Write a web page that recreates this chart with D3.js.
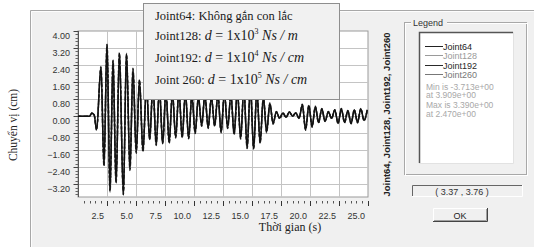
<!DOCTYPE html>
<html>
<head>
<meta charset="utf-8">
<script src="https://cdn.jsdelivr.net/npm/d3@7"></script>
<style>
  html, body { margin: 0; padding: 0; background: #fff; }
  svg { display: block; }
</style>
</head>
<body>
<script>
const widthSVG = 534, heightSVG = 247;

// extrema times (s), shared by the four joints
const times = [0, 1.0, 1.2, 1.4, 1.6, 1.98, 2.24, 2.50, 2.76, 3.02, 3.28, 3.57, 3.91, 4.18, 4.48, 4.74, 5.02, 5.30, 5.60, 5.90,
    6.18, 6.46, 6.74, 7.02, 7.30, 7.58, 7.86, 8.14, 8.42, 8.70, 8.98, 9.26, 9.54, 9.82, 10.10, 10.38, 10.66, 10.94, 11.22, 11.50,
    11.78, 12.06, 12.34, 12.62, 12.90, 13.18, 13.46, 13.74, 14.02, 14.30, 14.58, 14.86, 15.14, 15.42, 15.70, 15.98, 16.26, 16.54,
    16.82, 17.10, 17.38, 17.66, 17.94, 18.22, 18.50, 18.78, 19.06, 19.34, 19.62, 19.90, 20.18, 20.46, 20.74, 21.02, 21.30, 21.58,
    21.86, 22.14, 22.42, 22.70, 22.98, 23.26, 23.54, 23.82, 24.10, 24.38, 24.66, 24.94];

const joint64 = [0, 0, 0.15, 0.05, -0.65, 2.30, -2.30, 3.39, -3.50, 2.60, -3.10, 2.95, -3.71, 2.95, -2.50, 2.20, -1.70, 1.70, -1.65, 1.40,
    -1.10, 1.50, -1.35, 1.30, -1.30, 1.20, -1.25, 1.10, -1.00, 1.20, -1.00, 1.10, -1.05, 1.00, -0.80, 0.90, -0.45, 1.00, -0.55, 0.90,
    -0.45, 1.00, -0.75, 1.10, -0.55, 1.00, -0.85, 1.20, -1.05, 1.30, -1.50, 1.40, -1.55, 1.20, -1.25, 0.90, -0.75, 0.60, -0.35, 0.20,
    -0.10, 0.15, -0.05, 0.20, 0.00, 0.15, -0.10, 0.55, -0.65, 0.50, -0.50, 0.45, -0.30, 0.35, -0.25, 0.20, -0.10, 0.30, -0.35, 0.35,
    -0.30, 0.25, -0.35, 0.30, -0.30, 0.35, -0.20, 0.30];
const joint128 = [0, 0, 0.14, 0.04, -0.62, 2.25, -2.20, 3.30, -3.45, 2.55, -3.05, 2.90, -3.60, 2.85, -2.45, 2.15, -1.65, 1.60, -1.55, 1.35,
    -1.05, 1.40, -1.30, 1.25, -1.25, 1.15, -1.20, 1.05, -0.95, 1.15, -0.95, 1.05, -1.00, 0.95, -0.75, 0.85, -0.45, 0.95, -0.50, 0.85,
    -0.45, 0.95, -0.70, 1.05, -0.55, 0.95, -0.80, 1.15, -1.00, 1.25, -1.45, 1.35, -1.50, 1.15, -1.20, 0.85, -0.70, 0.55, -0.30, 0.20,
    -0.10, 0.15, -0.05, 0.18, 0.00, 0.15, -0.08, 0.50, -0.60, 0.48, -0.45, 0.40, -0.30, 0.32, -0.22, 0.20, -0.12, 0.28, -0.32, 0.33,
    -0.28, 0.25, -0.33, 0.28, -0.28, 0.32, -0.20, 0.28];
const joint192 = [0, 0, 0.15, 0.05, -0.66, 2.32, -2.35, 3.35, -3.55, 2.62, -3.15, 2.98, -3.68, 2.92, -2.55, 2.25, -1.75, 1.72, -1.68, 1.42,
    -1.12, 1.48, -1.38, 1.32, -1.28, 1.22, -1.28, 1.12, -1.02, 1.18, -1.02, 1.12, -1.06, 1.02, -0.82, 0.92, -0.48, 1.02, -0.58, 0.92,
    -0.48, 1.02, -0.78, 1.12, -0.58, 1.02, -0.88, 1.22, -1.08, 1.32, -1.52, 1.42, -1.52, 1.22, -1.28, 0.92, -0.78, 0.62, -0.38, 0.22,
    -0.12, 0.16, -0.06, 0.20, 0.02, 0.16, -0.12, 0.56, -0.66, 0.52, -0.52, 0.46, -0.32, 0.36, -0.26, 0.22, -0.12, 0.30, -0.36, 0.36,
    -0.32, 0.26, -0.36, 0.31, -0.32, 0.36, -0.22, 0.31];
const joint260 = [0, 0, 0.13, 0.03, -0.60, 2.20, -2.25, 3.25, -3.40, 2.50, -3.00, 2.85, -3.55, 2.80, -2.40, 2.10, -1.60, 1.62, -1.58, 1.30,
    -1.02, 1.42, -1.28, 1.22, -1.22, 1.12, -1.18, 1.02, -0.92, 1.12, -0.96, 1.02, -0.98, 0.92, -0.72, 0.82, -0.40, 0.92, -0.50, 0.82,
    -0.42, 0.92, -0.68, 1.02, -0.50, 0.92, -0.78, 1.12, -0.98, 1.22, -1.42, 1.32, -1.45, 1.12, -1.18, 0.82, -0.68, 0.52, -0.30, 0.18,
    -0.08, 0.12, -0.04, 0.16, 0.00, 0.12, -0.08, 0.48, -0.58, 0.46, -0.44, 0.40, -0.28, 0.30, -0.22, 0.18, -0.10, 0.26, -0.30, 0.30,
    -0.26, 0.22, -0.30, 0.26, -0.26, 0.30, -0.18, 0.26];

const seriesNames = ['Joint64', 'Joint128', 'Joint192', 'Joint260'];
const seriesValues = [joint260, joint128, joint192, joint64];
const seriesColors = ['#555555', '#7a7a7a', '#2a2a2a', '#111111'];
const seriesDash = ['2,2', '3,2', '4,2', null];

const yTicks = [4.0, 3.2, 2.4, 1.6, 0.8, 0.0, -0.8, -1.6, -2.4, -3.2];
const xTicks = [2.5, 5.0, 7.5, 10.0, 12.5, 15.0, 17.5, 20.0, 22.5, 25.0];
const statLines = ['Min is -3.713e+00', 'at 3.909e+00', 'Max is 3.390e+00', 'at 2.470e+00'];
const noteLines = [
    {label: 'Joint64: Không gắn con lắc'},
    {label: 'Joint128: ', exp: '3', unit: ' Ns / m'},
    {label: 'Joint192: ', exp: '4', unit: ' Ns / cm'},
    {label: 'Joint 260: ', exp: '5', unit: ' Ns / cm'}
];
const cursorText = '( 3.37 , 3.76 )';

const SERIF = '"Liberation Serif", "Times New Roman", serif';
const SANS = '"Liberation Sans", Arial, sans-serif';

const svg = d3.select('body').append('svg')
    .attr('width', widthSVG)
    .attr('height', heightSVG);

svg.append('rect').attr('width', widthSVG).attr('height', heightSVG).attr('fill', '#fff');

// dialog panel
svg.append('rect')
    .attr('x', 30).attr('y', 10).attr('width', widthSVG - 30).attr('height', heightSVG - 10)
    .attr('fill', '#f0f0f0');
svg.append('path').attr('d', 'M30.5,247 V10.5 H534').attr('fill', 'none').attr('stroke', '#a8a8a8');
svg.append('path').attr('d', 'M31.5,247 V11.5 H534').attr('fill', 'none').attr('stroke', '#fdfdfd');

const x = d3.scaleLinear().domain([0, 25]).range([78, 368]);
const y = d3.scaleLinear().domain([-3.8, 4]).range([197, 31]);

// plot area
svg.append('rect')
    .attr('x', x(0)).attr('y', y(4)).attr('width', x(25) - x(0)).attr('height', y(-3.8) - y(4))
    .attr('fill', '#fff').attr('stroke', '#9a9a9a');

const grid = svg.append('g').attr('stroke', '#c4c4c4').attr('stroke-width', 1);
grid.selectAll('.gy').data(yTicks.slice(1)).join('line')
    .attr('x1', x(0)).attr('x2', x(25))
    .attr('y1', d => Math.round(y(d)) + 0.5).attr('y2', d => Math.round(y(d)) + 0.5);
grid.selectAll('.gx').data(xTicks.slice(0, -1)).join('line')
    .attr('y1', y(4)).attr('y2', y(-3.8))
    .attr('x1', d => Math.round(x(d)) + 0.5).attr('x2', d => Math.round(x(d)) + 0.5);

// y axis with minor ticks
const yAxis = svg.append('g');
yAxis.append('line').attr('x1', 78.5).attr('x2', 78.5).attr('y1', y(4)).attr('y2', y(-3.8))
    .attr('stroke', '#555');
yAxis.selectAll('.minor').data(d3.range(-3.68, 4.01, 0.16)).join('line')
    .attr('x1', 75.5).attr('x2', 78)
    .attr('y1', d => Math.round(y(d)) + 0.5).attr('y2', d => Math.round(y(d)) + 0.5)
    .attr('stroke', '#666');
yAxis.selectAll('.major').data(yTicks).join('line')
    .attr('x1', 73.5).attr('x2', 78)
    .attr('y1', d => Math.round(y(d)) + 0.5).attr('y2', d => Math.round(y(d)) + 0.5)
    .attr('stroke', '#444');
yAxis.selectAll('text').data(yTicks).join('text')
    .attr('x', 70).attr('y', d => y(d) + 7.5)
    .attr('text-anchor', 'end')
    .attr('font-family', SANS).attr('font-size', 9).attr('fill', '#333')
    .text(d3.format('.2f'));

// x axis: dotted tick row below the plot
const xAxis = svg.append('g');
xAxis.selectAll('.minor').data(d3.range(0.5, 25.01, 0.5)).join('line')
    .attr('x1', d => Math.round(x(d)) + 0.5).attr('x2', d => Math.round(x(d)) + 0.5)
    .attr('y1', 201).attr('y2', 203.5)
    .attr('stroke', '#555');
xAxis.selectAll('.major').data(xTicks).join('line')
    .attr('x1', d => Math.round(x(d)) + 0.5).attr('x2', d => Math.round(x(d)) + 0.5)
    .attr('y1', 201).attr('y2', 206)
    .attr('stroke', '#333');
xAxis.selectAll('text').data(xTicks).join('text')
    .attr('x', d => x(d) - 3).attr('y', 218.5)
    .attr('text-anchor', 'end')
    .attr('font-family', SANS).attr('font-size', 9).attr('fill', '#333')
    .text(d3.format('.1f'));

svg.append('text')
    .attr('x', 290).attr('y', 231)
    .attr('text-anchor', 'middle')
    .attr('font-family', SERIF).attr('font-size', 12).attr('fill', '#222')
    .text('Thời gian (s)');
svg.append('text')
    .attr('transform', 'translate(17,125) rotate(-90)')
    .attr('text-anchor', 'middle')
    .attr('font-family', SERIF).attr('font-size', 11.5).attr('fill', '#222')
    .text('Chuyển vị (cm)');

// the four time histories
svg.append('clipPath').attr('id', 'plotClip')
    .append('rect').attr('x', x(0)).attr('y', y(4)).attr('width', x(25) - x(0)).attr('height', y(-3.8) - y(4));

const line = d3.line()
    .x(d => x(d[0]))
    .y(d => y(d[1]))
    .curve(d3.curveMonotoneX);

svg.append('g').attr('clip-path', 'url(#plotClip)')
    .selectAll('path').data(seriesValues).join('path')
    .attr('d', vals => line(times.map((t, i) => [t, vals[i]])))
    .attr('fill', 'none')
    .attr('stroke', (d, i) => seriesColors[i])
    .attr('stroke-width', 1.5)
    .attr('stroke-dasharray', (d, i) => seriesDash[i]);

// note box over the plot
svg.append('rect')
    .attr('x', 143.5).attr('y', 3.5).attr('width', 196).attr('height', 96)
    .attr('fill', '#f1f1f1').attr('stroke', '#8e8e8e');
const noteY = [20, 40, 62, 84];
noteLines.forEach((d, i) => {
    const t = svg.append('text')
        .attr('x', 155).attr('y', noteY[i])
        .attr('font-family', SERIF).attr('fill', '#1a1a1a');
    t.append('tspan').attr('font-size', 12.5).text(d.label);
    if (d.exp) {
        t.append('tspan').attr('font-size', 14).attr('font-style', 'italic').text('d');
        t.append('tspan').attr('font-size', 14).text(' = 1x10');
        t.append('tspan').attr('font-size', 8).attr('dy', -6).text(d.exp);
        t.append('tspan').attr('font-size', 14).attr('font-style', 'italic').attr('dy', 6).text(d.unit);
    }
});

// vertical series caption
svg.append('text')
    .attr('transform', 'translate(390,114.5) rotate(-90)')
    .attr('text-anchor', 'middle')
    .attr('font-family', SANS).attr('font-weight', 'bold').attr('font-size', 9.5)
    .attr('textLength', 164).attr('lengthAdjust', 'spacingAndGlyphs')
    .attr('fill', '#222')
    .text(seriesNames.join(', '));

// legend group box
svg.append('rect').attr('x', 404.5).attr('y', 22.5).attr('width', 122).attr('height', 152)
    .attr('fill', 'none').attr('stroke', '#a8a8a8');
svg.append('rect').attr('x', 405.5).attr('y', 23.5).attr('width', 122).attr('height', 152)
    .attr('fill', 'none').attr('stroke', '#fff');
svg.append('rect').attr('x', 411).attr('y', 17).attr('width', 36).attr('height', 10).attr('fill', '#f0f0f0');
svg.append('text').attr('x', 413).attr('y', 25.5)
    .attr('font-family', SANS).attr('font-size', 9).attr('fill', '#333')
    .text('Legend');

svg.append('rect').attr('x', 419).attr('y', 32).attr('width', 94).attr('height', 131).attr('fill', '#fff');
svg.append('path').attr('d', 'M419.5,163 V32.5 H513').attr('fill', 'none').attr('stroke', '#555').attr('stroke-width', 1.5);
svg.append('path').attr('d', 'M419,163.5 H513.5 V32').attr('fill', 'none').attr('stroke', '#e2e2e2');

const legendY = [46, 55, 65, 74];
const legendText = ['#222', '#9a9a9a', '#2a2a2a', '#777'];
const legend = svg.append('g').selectAll('g').data(seriesNames).join('g')
    .attr('transform', (d, i) => `translate(0,${legendY[i]})`);
legend.append('line').attr('x1', 425).attr('x2', 443).attr('y1', 0.5).attr('y2', 0.5)
    .attr('stroke', (d, i) => legendText[i]);
legend.append('text').attr('x', 443).attr('y', 3.5)
    .attr('font-family', SANS).attr('font-size', 9)
    .attr('fill', (d, i) => legendText[i])
    .text(d => d);

svg.append('g').selectAll('text').data(statLines).join('text')
    .attr('x', 426).attr('y', (d, i) => [89.5, 98, 108, 117][i])
    .attr('font-family', SANS).attr('font-size', 8.5).attr('fill', '#a8a8a8')
    .text(d => d);

// cursor readout box
svg.append('rect').attr('x', 412).attr('y', 185).attr('width', 111).attr('height', 12).attr('fill', '#f0f0f0');
svg.append('path').attr('d', 'M412.5,197 V185.5 H523').attr('fill', 'none').attr('stroke', '#666');
svg.append('path').attr('d', 'M412,196.5 H522.5 V185').attr('fill', 'none').attr('stroke', '#fff');
svg.append('text').attr('x', 462).attr('y', 194.5)
    .attr('text-anchor', 'middle')
    .attr('font-family', SANS).attr('font-size', 9).attr('fill', '#333')
    .text(cursorText);

// OK button
svg.append('rect').attr('x', 433).attr('y', 208).attr('width', 55).attr('height', 14).attr('fill', '#f0f0f0');
svg.append('path').attr('d', 'M433.5,222 V208.5 H488').attr('fill', 'none').attr('stroke', '#fff');
svg.append('path').attr('d', 'M433,221.5 H487.5 V208').attr('fill', 'none').attr('stroke', '#444');
svg.append('path').attr('d', 'M434,220.5 H486.5 V209').attr('fill', 'none').attr('stroke', '#a0a0a0');
svg.append('text').attr('x', 460).attr('y', 218.5)
    .attr('text-anchor', 'middle')
    .attr('font-family', SANS).attr('font-size', 9).attr('fill', '#222')
    .text('OK');
</script>
</body>
</html>
